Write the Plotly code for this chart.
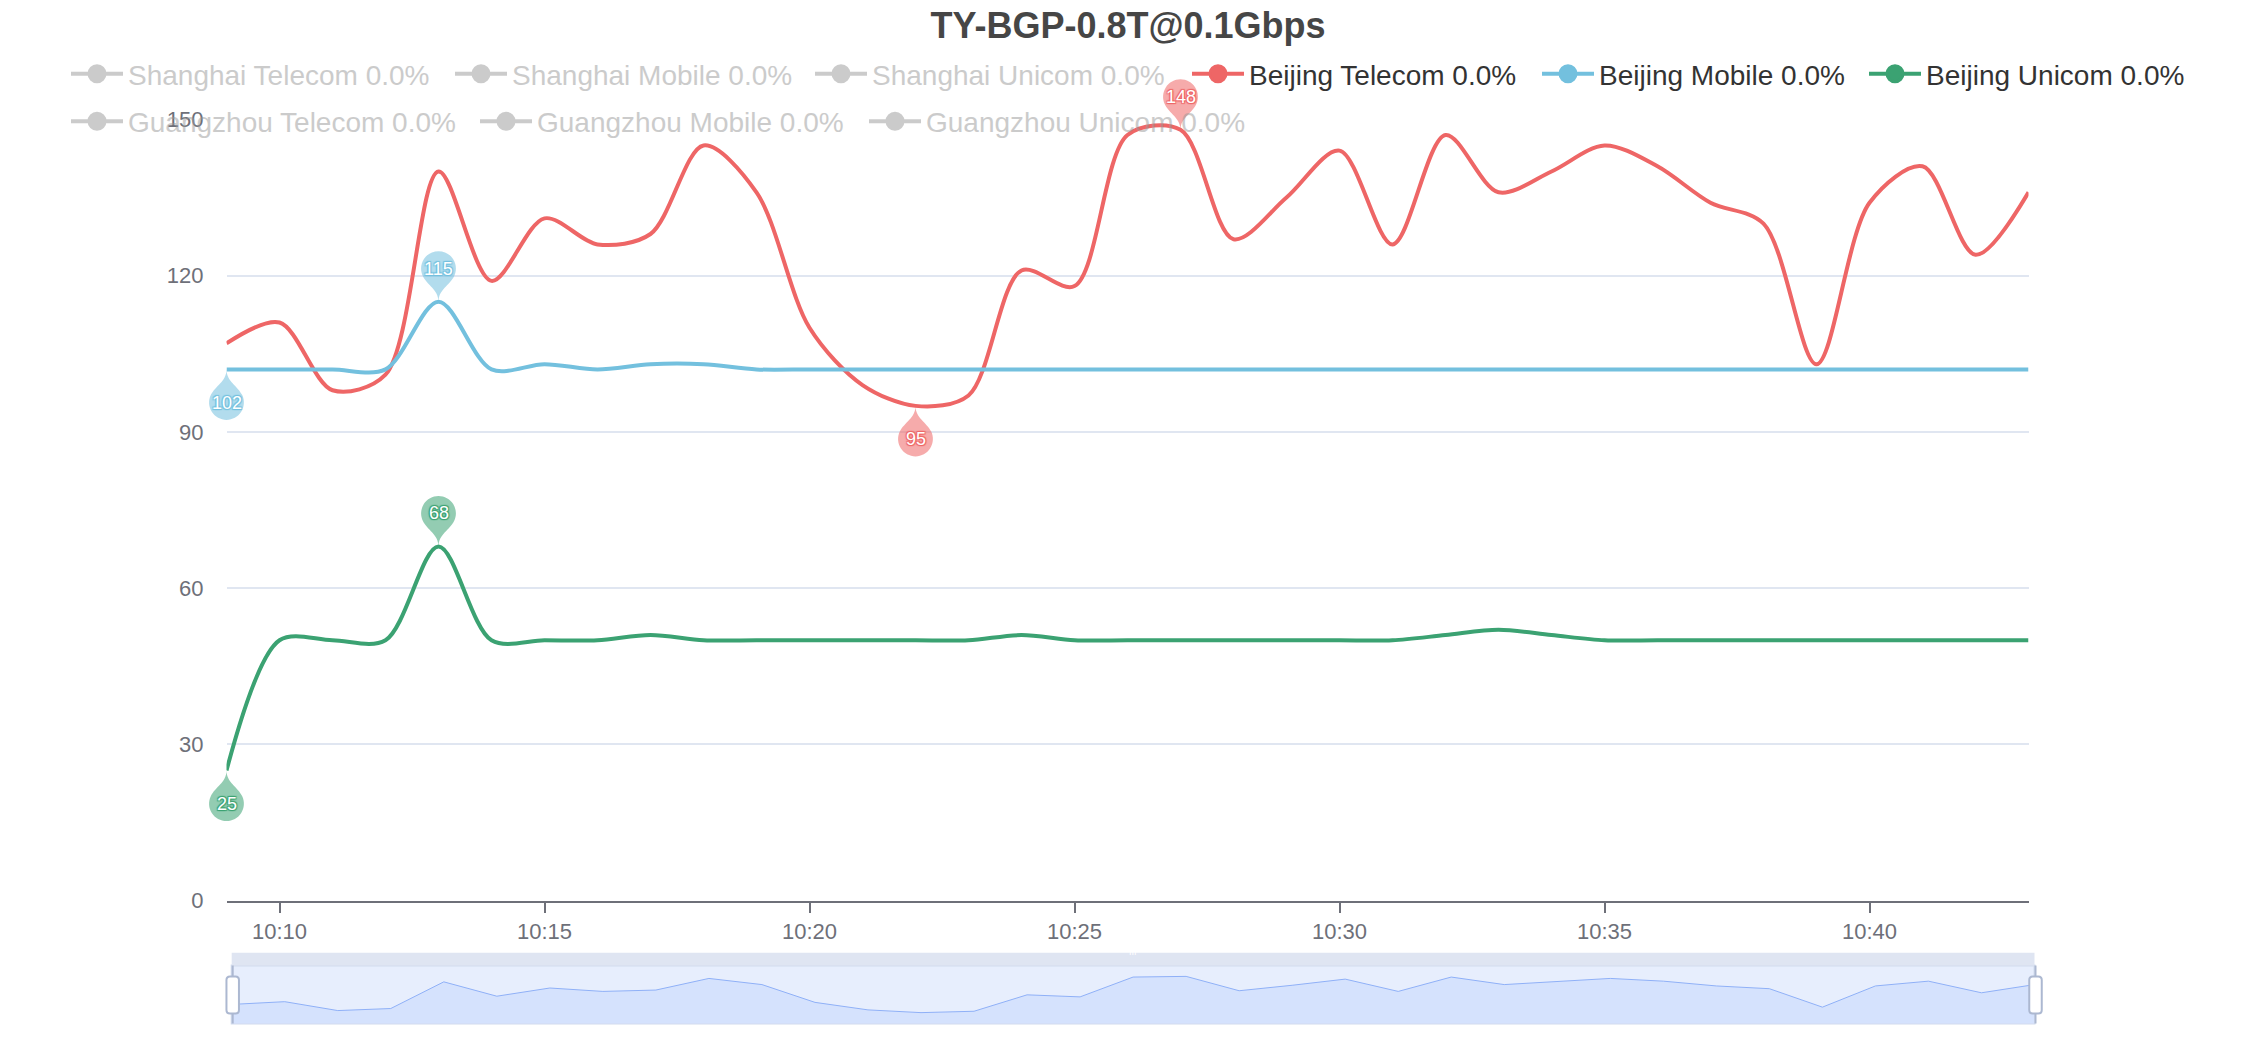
import math
from datetime import datetime, timedelta
import plotly.graph_objects as go

# ---------------- data ----------------
times = ["10:09", "10:10", "10:11", "10:12", "10:13", "10:14", "10:15", "10:16", "10:17",
         "10:18", "10:19", "10:20", "10:21", "10:22", "10:23", "10:24", "10:25", "10:26",
         "10:27", "10:28", "10:29", "10:30", "10:31", "10:32", "10:33", "10:34", "10:35",
         "10:36", "10:37", "10:38", "10:39", "10:40", "10:41", "10:42", "10:43"]

beijing_telecom = [107, 111, 98, 101, 140, 119, 131, 126, 128, 145, 136, 110, 99, 95, 97, 121,
                   118, 147, 148, 127, 135, 144, 126, 147, 136, 140, 145, 141, 134, 130, 103,
                   134, 141, 124, 136]
beijing_mobile = [102, 102, 102, 102, 115, 102, 103, 102, 103, 103, 102, 102, 102, 102, 102, 102,
                  102, 102, 102, 102, 102, 102, 102, 102, 102, 102, 102, 102, 102, 102, 102,
                  102, 102, 102, 102]
beijing_unicom = [25, 50, 50, 50, 68, 50, 50, 50, 51, 50, 50, 50, 50, 50, 50, 51,
                  50, 50, 50, 50, 50, 50, 50, 51, 52, 51, 50, 50, 50, 50, 50,
                  50, 50, 50, 50]

series_names = ["Shanghai Telecom 0.0%", "Shanghai Mobile 0.0%", "Shanghai Unicom 0.0%",
                "Beijing Telecom 0.0%", "Beijing Mobile 0.0%", "Beijing Unicom 0.0%",
                "Guangzhou Telecom 0.0%", "Guangzhou Mobile 0.0%", "Guangzhou Unicom 0.0%"]
shown_values = {"Beijing Telecom 0.0%": beijing_telecom,
                "Beijing Mobile 0.0%": beijing_mobile,
                "Beijing Unicom 0.0%": beijing_unicom}
y_ticks = [0, 30, 60, 90, 120, 150]
y_max = 150
title_text = "TY-BGP-0.8T@0.1Gbps"
DAY = "2024-01-01"

# ---------------- styles / geometry ----------------
colors = {"Beijing Telecom 0.0%": "#ee6666",
          "Beijing Mobile 0.0%": "#73c0de",
          "Beijing Unicom 0.0%": "#3ba272"}
HIDDEN_COLOR = "#999999"   # legend-only items are drawn at 50% opacity -> #ccc
FONT = "Liberation Sans, Arial, Helvetica, sans-serif"
AXIS_COLOR = "#6E7079"
GRID_COLOR = "#E0E6F1"

W, H = 2256, 1040
PLOT_L, PLOT_R, PLOT_T, PLOT_B = 226.5, 2028.5, 119.4, 900.7
PAPER_L, PAPER_R, PAPER_T, PAPER_B = 170, 2040, 60, 1024
SL_L, SL_R = 231.7, 2034.5
SL_BAND_TOP, SL_DATA_TOP, SL_BOTTOM = 952.7, 965.5, 1023.5


def fx(p):
    return (p - PAPER_L) / (PAPER_R - PAPER_L)


def fy(p):
    return (PAPER_B - p) / (PAPER_B - PAPER_T)


x = [DAY + " " + t for t in times]


def rgba(hexc, a):
    h = hexc.lstrip("#")
    return "rgba(%d,%d,%d,%.2f)" % (int(h[0:2], 16), int(h[2:4], 16), int(h[4:6], 16), a)


def pin_path(size, up=True):
    """ECharts-like pin symbol; tip at (0,0); pixel offsets (y positive = up)."""
    w = size / 5 * 3
    h = max(w, size)
    r = w / 2
    dy = r * r / (h - r)
    cy = -(h - r - dy)            # canvas coords (y down), tip at 0
    ang = math.asin(dy / r)
    dx = math.cos(ang) * r
    tx, ty = math.sin(ang), math.cos(ang)
    cp1, cp2 = r * 0.6, r * 0.7
    t0, t1 = math.pi - ang, 2 * math.pi + ang
    n = 4
    segs = []
    for i in range(n):
        a0 = t0 + (t1 - t0) * i / n
        a1 = t0 + (t1 - t0) * (i + 1) / n
        k = 4 / 3 * math.tan((a1 - a0) / 4)
        p0 = (r * math.cos(a0), cy + r * math.sin(a0))
        p3 = (r * math.cos(a1), cy + r * math.sin(a1))
        p1 = (p0[0] - k * r * math.sin(a0), p0[1] + k * r * math.cos(a0))
        p2 = (p3[0] + k * r * math.sin(a1), p3[1] - k * r * math.cos(a1))
        segs.append((p1, p2, p3))
    segs.append(((dx - tx * cp1, cy + dy + ty * cp1), (0, -cp2), (0, 0)))
    segs.append(((0, -cp2), (-dx + tx * cp1, cy + dy + ty * cp1), (-dx, cy + dy)))
    sgn = -1 if up else 1

    def f(p):
        return "%.2f,%.2f" % (p[0], sgn * p[1])
    d = "M" + f((-dx, cy + dy))
    for p1, p2, p3 in segs:
        d += " C" + f(p1) + " " + f(p2) + " " + f(p3)
    return d + " Z", -cy


def round_rect(wd, ht, rad):
    a, b = wd / 2, ht / 2
    return ("M%.2f,%.2f L%.2f,%.2f Q%.2f,%.2f %.2f,%.2f L%.2f,%.2f Q%.2f,%.2f %.2f,%.2f "
            "L%.2f,%.2f Q%.2f,%.2f %.2f,%.2f L%.2f,%.2f Q%.2f,%.2f %.2f,%.2f Z") % (
        -a + rad, -b, a - rad, -b, a, -b, a, -b + rad, a, b - rad, a, b, a - rad, b,
        -a + rad, b, -a, b, -a, b - rad, -a, -b + rad, -a, -b, -a + rad, -b)


# legend slot: (left of symbol, vertical centre) in page pixels
legend_slots = {
    "Shanghai Telecom 0.0%": (71, 74), "Shanghai Mobile 0.0%": (455, 74),
    "Shanghai Unicom 0.0%": (815, 74), "Beijing Telecom 0.0%": (1192, 74),
    "Beijing Mobile 0.0%": (1542, 74), "Beijing Unicom 0.0%": (1869, 74),
    "Guangzhou Telecom 0.0%": (71, 121.5), "Guangzhou Mobile 0.0%": (480, 121.5),
    "Guangzhou Unicom 0.0%": (869, 121.5),
}

fig = go.Figure()
layout_legends = {}
for i, name in enumerate(series_names):
    lid = "legend" if i == 0 else "legend%d" % (i + 1)
    sx, sy = legend_slots[name]
    hidden = name not in shown_values
    layout_legends[lid] = dict(
        x=fx(sx - 5), y=fy(sy), xanchor="left", yanchor="middle", orientation="h",
        bgcolor="rgba(0,0,0,0)", borderwidth=0, itemsizing="trace", itemwidth=52,
        font=dict(family=FONT, size=28, color=HIDDEN_COLOR if hidden else "#333333"))
    if hidden:
        fig.add_trace(go.Scatter(x=[None], y=[None], name=name, legend=lid, visible="legendonly",
                                 mode="lines+markers", line=dict(color=HIDDEN_COLOR, width=4),
                                 marker=dict(color=HIDDEN_COLOR, size=16,
                                             line=dict(color=HIDDEN_COLOR, width=3))))
    else:
        vals = shown_values[name]
        c = colors[name]
        fig.add_trace(go.Scatter(x=x, y=vals, name=name, legendgroup=name, showlegend=False,
                                 mode="lines",
                                 line=dict(color=c, width=4, shape="spline", smoothing=0.9),
                                 hoverinfo="x+y+name"))
        # legend entry (line + circle icon, like the original legend)
        fig.add_trace(go.Scatter(x=[None], y=[None], name=name, legendgroup=name, legend=lid,
                                 mode="lines+markers", line=dict(color=c, width=4),
                                 marker=dict(color=c, size=16, line=dict(color=c, width=3)),
                                 hoverinfo="skip"))

# data-zoom slider preview (first visible series, linear, ECharts-style padded extent)
lo, hi = min(beijing_telecom), max(beijing_telecom)
pad = (hi - lo) * 0.3
fig.add_trace(go.Scatter(x=x, y=beijing_telecom, xaxis="x2", yaxis="y2", mode="lines",
                         line=dict(color="#8FB0F7", width=1), fill="tozeroy",
                         fillcolor="#D5E2FD", showlegend=False, hoverinfo="skip"))
# invisible full-page overlay subplot so the mark-point pins are not clipped
fig.add_trace(go.Scatter(x=[None], y=[None], xaxis="x3", yaxis="y3", showlegend=False,
                         hoverinfo="skip"))

shapes = []
annotations = []
PIN = 58
for name, vals in shown_values.items():
    c = colors[name]
    for kind in ("max", "min"):
        v = max(vals) if kind == "max" else min(vals)
        idx = vals.index(v)
        path, center = pin_path(PIN, up=(kind == "max"))
        shapes.append(dict(type="path", xref="x3", yref="y3", xsizemode="pixel", ysizemode="pixel",
                           xanchor=x[idx], yanchor=v, path=path, fillcolor=rgba(c, 0.55),
                           line=dict(width=0), layer="above"))
        sh = "1px 1px 1px %s, -1px -1px 1px %s, 1px -1px 1px %s, -1px 1px 1px %s" % (c, c, c, c)
        annotations.append(dict(x=x[idx], y=v, xref="x", yref="y", text=str(v), showarrow=False,
                                yshift=center if kind == "max" else -center,
                                font=dict(family=FONT, size=18, color="white", shadow=sh)))

# slider decorations
shapes.append(dict(type="rect", xref="paper", yref="paper", x0=fx(SL_L), x1=fx(SL_R),
                   y0=fy(SL_BOTTOM), y1=fy(SL_DATA_TOP), fillcolor="#E7EEFD",
                   line=dict(color="#D2DBEE", width=2), layer="below"))
shapes.append(dict(type="rect", xref="paper", yref="paper", x0=fx(SL_L), x1=fx(SL_R),
                   y0=fy(SL_DATA_TOP), y1=fy(SL_BAND_TOP), fillcolor="#DFE5F2",
                   line=dict(width=0), layer="below"))
for edge in (SL_L, SL_R):
    shapes.append(dict(type="line", xref="paper", yref="paper", x0=fx(edge + 1), x1=fx(edge + 1),
                       y0=fy(SL_BOTTOM), y1=fy(SL_DATA_TOP), line=dict(color="#ACB8D1", width=2)))
    shapes.append(dict(type="path", xref="paper", yref="paper", xsizemode="pixel", ysizemode="pixel",
                       xanchor=fx(edge + 1), yanchor=fy((SL_DATA_TOP + SL_BOTTOM) / 2 + 0.5),
                       path=round_rect(12.5, 37, 3.5), fillcolor="#FFFFFF",
                       line=dict(color="#ACB8D1", width=2)))
annotations.append(dict(x=fx((SL_L + SL_R) / 2), y=fy((SL_BAND_TOP + SL_DATA_TOP) / 2),
                        xref="paper", yref="paper", text="III", showarrow=False,
                        font=dict(family=FONT, size=9, color="#FFFFFF")))

# overlay axis ranges: same scale as the main axes, extended to the full paper area
t0 = datetime.fromisoformat(x[0])
t1 = datetime.fromisoformat(x[-1])
ms_per_px = (t1 - t0).total_seconds() * 1000 / (PLOT_R - PLOT_L)
x3_range = [(t0 - timedelta(milliseconds=(PLOT_L - PAPER_L) * ms_per_px)).isoformat(sep=" "),
            (t1 + timedelta(milliseconds=(PAPER_R - PLOT_R) * ms_per_px)).isoformat(sep=" ")]
v_per_px = y_max / (PLOT_B - PLOT_T)
y3_range = [0 - (PAPER_B - PLOT_B) * v_per_px, y_max + (PLOT_T - PAPER_T) * v_per_px]

fig.update_layout(
    width=W, height=H, autosize=False,
    margin=dict(l=PAPER_L, r=W - PAPER_R, t=PAPER_T, b=H - PAPER_B, pad=0, autoexpand=False),
    paper_bgcolor="white", plot_bgcolor="rgba(0,0,0,0)",
    title=dict(text="<b>" + title_text + "</b>", x=0.5, xref="container", xanchor="center",
               y=1 - 25 / H, yref="container", yanchor="middle",
               font=dict(family=FONT, size=36, color="#464646")),
    xaxis=dict(type="date", domain=[fx(PLOT_L), fx(PLOT_R)], range=[x[0], x[-1]],
               tickformat="%H:%M", dtick=300000, tick0=DAY + " 10:10",
               showgrid=False, showline=True, linecolor=AXIS_COLOR, linewidth=2,
               ticks="outside", ticklen=10, tickwidth=2, tickcolor=AXIS_COLOR,
               tickfont=dict(family=FONT, size=22, color=AXIS_COLOR), zeroline=False,
               anchor="y", fixedrange=True, automargin=False),
    yaxis=dict(domain=[fy(PLOT_B), fy(PLOT_T)], range=[0, y_max], tickvals=y_ticks,
               showgrid=True, gridcolor=GRID_COLOR, gridwidth=2, zeroline=False,
               showline=False, ticks="", ticklabelstandoff=22,
               tickfont=dict(family=FONT, size=22, color=AXIS_COLOR), anchor="x",
               fixedrange=True, automargin=False),
    xaxis2=dict(type="date", domain=[fx(SL_L), fx(SL_R)], range=[x[0], x[-1]], visible=False,
                anchor="y2", fixedrange=True),
    yaxis2=dict(domain=[fy(SL_BOTTOM), fy(SL_DATA_TOP)], range=[lo - pad, hi + pad],
                visible=False, anchor="x2", fixedrange=True),
    xaxis3=dict(type="date", domain=[0, 1], range=x3_range, visible=False, anchor="y3",
                fixedrange=True),
    yaxis3=dict(domain=[0, 1], range=y3_range, visible=False, anchor="x3", fixedrange=True),
    shapes=shapes, annotations=annotations, hovermode="closest",
    **layout_legends,
)

fig.write_html("out.html", config={"displayModeBar": False},
               post_script="document.body.style.margin='0';")
